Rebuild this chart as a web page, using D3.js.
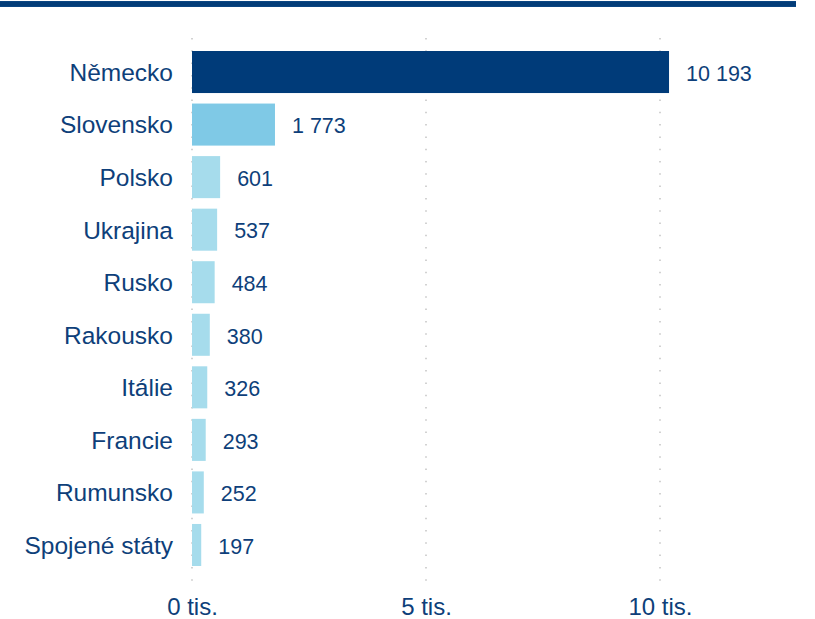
<!DOCTYPE html>
<html>
<head>
<meta charset="utf-8">
<script src="https://cdn.jsdelivr.net/npm/d3@7/dist/d3.min.js"></script>
<style>
  html, body { margin: 0; padding: 0; background: #fff; }
  svg { display: block; }
  text { font-family: "Liberation Sans", Arial, sans-serif; fill: #0e3f7a; }
</style>
</head>
<body>
<svg id="chart" width="815" height="619"></svg>
<script>
// Countries and counts (persons)
const countries = ["Německo", "Slovensko", "Polsko", "Ukrajina", "Rusko", "Rakousko", "Itálie", "Francie", "Rumunsko", "Spojené státy"];
const values = [10193, 1773, 601, 537, 484, 380, 326, 293, 252, 197];
const barColors = ["#003b79", "#7fc9e6", "#a6dcec", "#a6dcec", "#a6dcec", "#a6dcec", "#a6dcec", "#a6dcec", "#a6dcec", "#a6dcec"];
const tickValues = [0, 5000, 10000];
const tickLabels = ["0 tis.", "5 tis.", "10 tis."];

const svg = d3.select("#chart");
const fontStack = '"Liberation Sans", Arial, sans-serif';

// Header rule
svg.append("rect")
  .attr("x", 0).attr("y", 1)
  .attr("width", 796).attr("height", 6)
  .attr("fill", "#0b4582");
svg.append("rect")
  .attr("x", 0).attr("y", 2)
  .attr("width", 796).attr("height", 4)
  .attr("fill", "#033c78");

const x = d3.scaleLinear().domain([0, 10000]).range([192, 660]);
const y = d3.scaleBand().domain(countries).range([51, 566]).paddingInner(0.2).paddingOuter(0);

// Dotted vertical gridlines
svg.append("g")
  .selectAll("line")
  .data(tickValues)
  .join("line")
  .attr("x1", d => x(d)).attr("x2", d => x(d))
  .attr("y1", 38).attr("y2", 587)
  .attr("stroke", "#c4c4c4")
  .attr("stroke-width", 1.5)
  .attr("stroke-dasharray", "1.5,10.8");

// Bars
svg.append("g")
  .selectAll("rect")
  .data(countries)
  .join("rect")
  .attr("x", x(0))
  .attr("y", d => y(d))
  .attr("width", (d, i) => x(values[i]) - x(0))
  .attr("height", y.bandwidth())
  .attr("fill", (d, i) => barColors[i]);

const fmt = v => d3.format(",")(v).replace(/,/g, " ");

// Value labels
svg.append("g")
  .selectAll("text")
  .data(countries)
  .join("text")
  .attr("x", (d, i) => x(values[i]) + 17)
  .attr("y", d => y(d) + y.bandwidth() / 2 + 1)
  .attr("dy", "0.36em")
  .attr("font-size", 21.5)
  .text((d, i) => fmt(values[i]));

// Category axis
const yAxis = svg.append("g")
  .attr("transform", `translate(${x(0)},0)`)
  .call(d3.axisLeft(y).tickSize(0).tickPadding(19));
yAxis.select(".domain").remove();
yAxis.selectAll("text")
  .attr("font-size", 24.5)
  .attr("dy", "0.36em")
  .style("font-family", fontStack)
  .attr("fill", "#0e3f7a");

// Value axis
const xAxis = svg.append("g")
  .attr("transform", "translate(0,590)")
  .call(d3.axisBottom(x).tickValues(tickValues).tickFormat((d, i) => tickLabels[i]).tickSize(0));
xAxis.select(".domain").remove();
xAxis.selectAll("text")
  .attr("font-size", 24)
  .attr("y", 24.5)
  .attr("dy", 0)
  .style("font-family", fontStack)
  .attr("fill", "#0e3f7a");
</script>
</body>
</html>
